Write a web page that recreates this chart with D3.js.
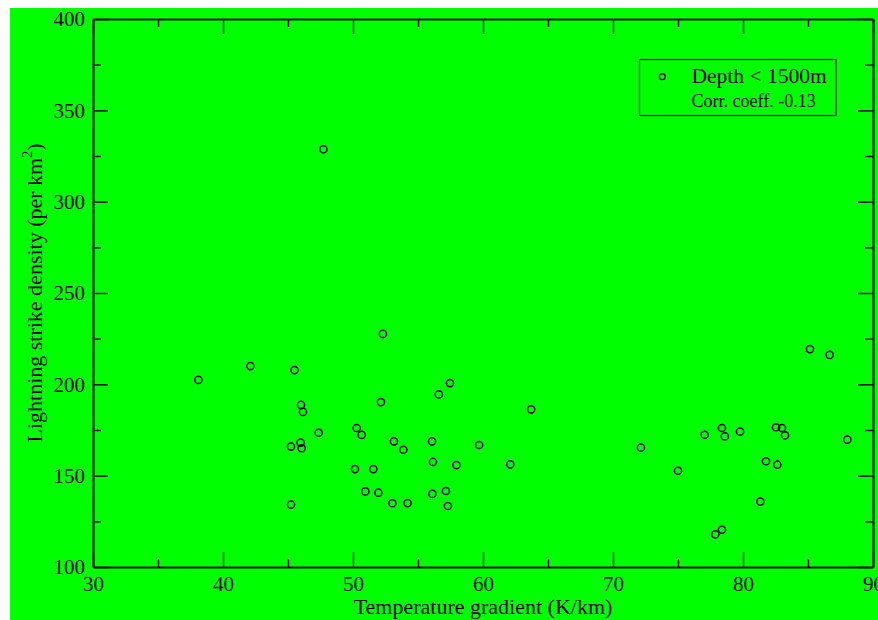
<!DOCTYPE html>
<html>
<head>
<meta charset="utf-8">
<script src="https://cdn.jsdelivr.net/npm/d3@7"></script>
<style>
  html, body { margin: 0; padding: 0; background: #ffffff; }
  svg { display: block; }
  text { font-family: "Liberation Serif", "Times New Roman", serif; fill: #000; }
</style>
</head>
<body>
<svg id="chart" width="878" height="620"></svg>
<script>
// ---- data ----
const gradient = [
  38.1, 42.1, 45.5, 46.0, 46.15, 47.36, 50.28, 50.67, 45.23, 45.97,
  46.05, 52.15, 56.6, 57.46, 53.15, 53.87, 56.08, 59.7, 50.15, 51.56,
  56.15, 57.95, 50.95, 51.95, 56.1, 57.15, 53.03, 54.2, 57.3, 45.23,
  47.72, 52.3, 63.7, 62.1, 72.15, 75.0, 77.05, 78.38, 78.6, 85.15,
  86.67, 79.77, 82.54, 83.0, 83.23, 88.02, 81.77, 82.64, 81.33, 78.38,
  77.87
];
const density = [
  202.4, 210.0, 207.8, 188.7, 184.9, 173.5, 176.1, 172.3, 165.9, 168.1,
  165.0, 190.3, 194.5, 200.7, 168.8, 164.2, 168.8, 166.8, 153.6, 153.6,
  157.5, 155.8, 141.4, 140.7, 140.0, 141.6, 134.9, 135.0, 133.4, 134.1,
  328.7, 227.6, 186.3, 156.2, 165.3, 152.7, 172.4, 176.1, 171.5, 219.3,
  216.1, 174.1, 176.5, 176.1, 172.1, 169.7, 157.9, 156.0, 135.8, 120.4,
  117.9
];
const xMajorTicks = [30, 40, 50, 60, 70, 80, 90];
const xMinorTicks = [35, 45, 55, 65, 75, 85];
const yMajorTicks = [100, 150, 200, 250, 300, 350, 400];
const yMinorTicks = [125, 175, 225, 275, 325, 375];
const xTitle = "Temperature gradient (K/km)";
const yTitleMain = "Lightning strike density (per km";
const yTitleSup = "2";
const legendLabel = "Depth < 1500m";
const legendNote = "Corr. coeff. -0.13";

// ---- layout ----
const svg = d3.select("#chart");
const pL = 93, pR = 873, pT = 19, pB = 567;
const points = gradient.map((g, i) => ({ x: g, y: density[i] }));

svg.append("rect").attr("x", 10).attr("y", 8).attr("width", 868).attr("height", 612)
  .attr("fill", "#00ff00");

const x = d3.scaleLinear().domain([30, 90]).range([pL, pR]);
const y = d3.scaleLinear().domain([100, 400]).range([pB, pT]);

const major = 15, minor = 8;

function styleAxis(g) {
  g.selectAll("path.domain").attr("stroke", "#000").attr("stroke-width", 1.6);
  g.selectAll(".tick line").attr("stroke", "#000").attr("stroke-width", 1.4);
  g.selectAll("text").style("font-size", "21px").style("font-family", '"Liberation Serif", serif').attr("fill", "#000");
}

// bottom axis with labels
svg.append("g").attr("transform", `translate(0,${pB})`)
  .call(d3.axisBottom(x).tickValues(xMajorTicks).tickSizeInner(-major).tickSizeOuter(0).tickPadding(9).tickFormat(d3.format("d")))
  .call(styleAxis);
svg.append("g").attr("transform", `translate(0,${pB})`)
  .call(d3.axisBottom(x).tickValues(xMinorTicks).tickSizeInner(-minor).tickSizeOuter(0).tickFormat(""))
  .call(styleAxis);
// top axis
svg.append("g").attr("transform", `translate(0,${pT})`)
  .call(d3.axisTop(x).tickValues(xMajorTicks).tickSizeInner(-major).tickSizeOuter(0).tickFormat(""))
  .call(styleAxis);
svg.append("g").attr("transform", `translate(0,${pT})`)
  .call(d3.axisTop(x).tickValues(xMinorTicks).tickSizeInner(-minor).tickSizeOuter(0).tickFormat(""))
  .call(styleAxis);
// left axis with labels
svg.append("g").attr("transform", `translate(${pL},0)`)
  .call(d3.axisLeft(y).tickValues(yMajorTicks).tickSizeInner(-major).tickSizeOuter(0).tickPadding(8).tickFormat(d3.format("d")))
  .call(styleAxis);
svg.append("g").attr("transform", `translate(${pL},0)`)
  .call(d3.axisLeft(y).tickValues(yMinorTicks).tickSizeInner(-minor).tickSizeOuter(0).tickFormat(""))
  .call(styleAxis);
// right axis
svg.append("g").attr("transform", `translate(${pR},0)`)
  .call(d3.axisRight(y).tickValues(yMajorTicks).tickSizeInner(-major).tickSizeOuter(0).tickFormat(""))
  .call(styleAxis);
svg.append("g").attr("transform", `translate(${pR},0)`)
  .call(d3.axisRight(y).tickValues(yMinorTicks).tickSizeInner(-minor).tickSizeOuter(0).tickFormat(""))
  .call(styleAxis);

// titles
svg.append("text").attr("x", (pL + pR) / 2).attr("y", 614)
  .attr("text-anchor", "middle").style("font-size", "22px").text(xTitle);

const yt = svg.append("text")
  .attr("transform", `translate(41.5,${(pT + pB) / 2}) rotate(-90)`)
  .attr("text-anchor", "middle").style("font-size", "22px");
yt.append("tspan").text(yTitleMain);
yt.append("tspan").attr("dy", -10).style("font-size", "14px").text(yTitleSup);
yt.append("tspan").attr("dy", 10).text(")");

// points
svg.append("g").selectAll("circle").data(points).join("circle")
  .attr("cx", d => x(d.x)).attr("cy", d => y(d.y)).attr("r", 3.6)
  .attr("fill", "none").attr("stroke", "#000").attr("stroke-width", 1.5);

// legend
const lg = svg.append("g");
lg.append("rect").attr("x", 639.5).attr("y", 59.5).attr("width", 196.5).attr("height", 56)
  .attr("fill", "none").attr("stroke", "#000").attr("stroke-width", 1.2);
lg.append("circle").attr("cx", 662.3).attr("cy", 76.7).attr("r", 2.9)
  .attr("fill", "none").attr("stroke", "#000").attr("stroke-width", 1.4);
lg.append("text").attr("x", 691.5).attr("y", 83).style("font-size", "21.5px").text(legendLabel);
lg.append("text").attr("x", 691.5).attr("y", 106.5).style("font-size", "18px").text(legendNote);
</script>
</body>
</html>
